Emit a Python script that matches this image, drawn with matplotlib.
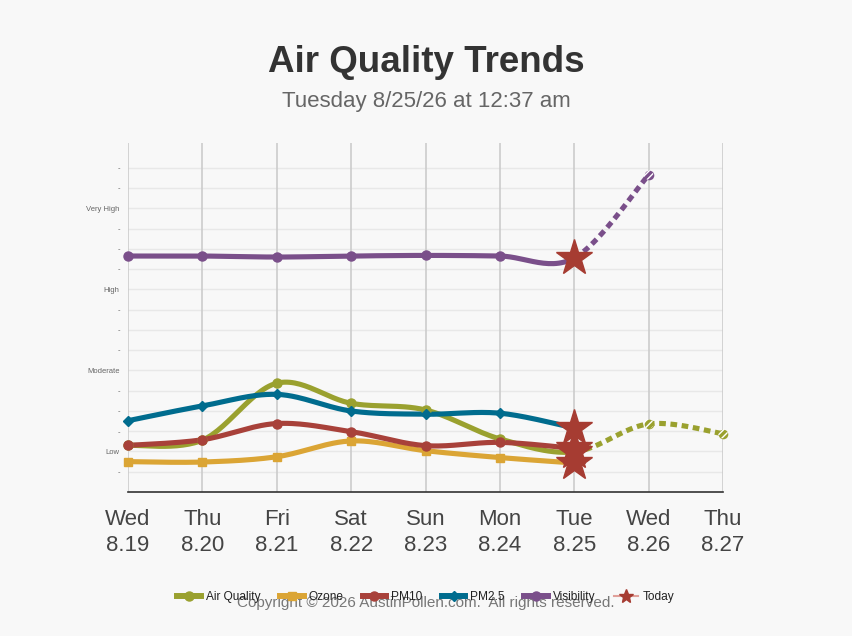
import numpy as np
import matplotlib
matplotlib.use("Agg")
import matplotlib.pyplot as plt
from matplotlib.lines import Line2D

plt.rcParams['font.family'] = ['Liberation Sans', 'DejaVu Sans']

days = ["Wed", "Thu", "Fri", "Sat", "Sun", "Mon", "Tue", "Wed", "Thu"]
dates = ["8.19", "8.20", "8.21", "8.22", "8.23", "8.24", "8.25", "8.26", "8.27"]
today_index = 6

air_quality = [2.3, 2.56, 5.37, 4.38, 4.05, 2.62, 1.98, 3.36, 2.88]
ozone = [1.5, 1.48, 1.74, 2.52, 2.04, 1.70, 1.43]
pm10 = [2.3, 2.58, 3.38, 2.98, 2.29, 2.45, 2.15]
pm25 = [3.52, 4.25, 4.82, 4.0, 3.84, 3.89, 3.16]
visibility = [11.65, 11.65, 11.6, 11.65, 11.68, 11.65, 11.55, 15.65]

level_ticks = list(range(0, 17))
level_labels = {2: "Low", 6: "Moderate", 10: "High", 14: "Very High"}

series = [
    ("Air Quality", air_quality, "#9aa12f", "o"),
    ("Ozone", ozone, "#dba535", "s"),
    ("PM10", pm10, "#a8413a", "o"),
    ("PM2.5", pm25, "#006c8e", "D"),
    ("Visibility", visibility, "#7a4f8a", "o"),
]
star_color = "#a63c32"
marker_sizes = {"o": 6.5, "s": 5.8, "D": 5.2}


def catmull_rom(xs, ys, n=30):
    x = np.asarray(xs, float)
    y = np.asarray(ys, float)
    px = np.concatenate([[x[0]], x, [x[-1]]])
    py = np.concatenate([[y[0]], y, [y[-1]]])
    outx, outy = [], []
    for i in range(1, len(px) - 2):
        t = np.linspace(0, 1, n)
        h00 = 2 * t**3 - 3 * t**2 + 1
        h10 = t**3 - 2 * t**2 + t
        h01 = -2 * t**3 + 3 * t**2
        h11 = t**3 - t**2
        m1x = (px[i + 1] - px[i - 1]) / 2
        m2x = (px[i + 2] - px[i]) / 2
        m1y = (py[i + 1] - py[i - 1]) / 2
        m2y = (py[i + 2] - py[i]) / 2
        outx.append(h00 * px[i] + h10 * m1x + h01 * px[i + 1] + h11 * m2x)
        outy.append(h00 * py[i] + h10 * m1y + h01 * py[i + 1] + h11 * m2y)
    return np.concatenate(outx), np.concatenate(outy)


fig = plt.figure(figsize=(8.52, 6.36), dpi=100)
fig.patch.set_facecolor("#f8f8f8")
ax = fig.add_axes([128 / 852, 1 - 492 / 636, (723 - 128) / 852, (492 - 143) / 636])
ax.set_facecolor("#f8f8f8")

ax.set_xlim(0, len(days) - 1)
ax.set_ylim(0, 17.23)

for yv in level_ticks[1:]:
    ax.axhline(yv, color="#e8e8e8", lw=1, zorder=0)
for xv in range(len(days)):
    ax.axvline(xv, color="#cccccc", lw=1.2, zorder=0.5)

lw = 3.7
for name, vals, col, mk in series:
    xs = np.arange(len(vals))
    cx, cy = catmull_rom(xs, vals)
    solid = cx <= today_index + 1e-9
    dashed = cx >= today_index - 1e-9
    ax.plot(cx[solid], cy[solid], color=col, lw=lw, solid_capstyle="round", zorder=3,
            clip_on=False)
    if len(vals) > today_index + 1:
        ax.plot(cx[dashed], cy[dashed], color=col, lw=lw, ls=(0, (1.3, 0.9)), zorder=3,
                clip_on=False)
    mx = xs[:today_index]
    my = vals[:today_index]
    ax.plot(mx, my, ls="none", marker=mk, color=col, ms=marker_sizes[mk], zorder=4,
            clip_on=False)
    if len(vals) > today_index + 1:
        fx = xs[today_index + 1:]
        fy = vals[today_index + 1:]
        ax.scatter(fx, fy, s=48, color=col, zorder=5, linewidths=0, clip_on=False)
        ax.scatter(fx, fy, s=48, facecolor="none", edgecolor="white", hatch="/////",
                   linewidths=0, zorder=6, clip_on=False)
    ax.plot([today_index], [vals[today_index]], ls="none", marker="*", color=star_color,
            ms=27, zorder=7, clip_on=False)

ax.set_xticks(range(len(days)))
ax.set_xticklabels([f"{d}\n{t}" for d, t in zip(days, dates)], fontsize=16,
                   color="#444444", linespacing=1.35)
ax.tick_params(axis="x", length=0, pad=12)
ax.set_yticks(level_ticks[1:])
ax.set_yticklabels([level_labels.get(v, "-") for v in level_ticks[1:]], fontsize=5.5,
                   color="#666666")
ax.tick_params(axis="y", length=0, pad=6)
for s in ["top", "right", "left"]:
    ax.spines[s].set_visible(False)
ax.spines["bottom"].set_color("#333333")
ax.spines["bottom"].set_linewidth(1.2)

fig.text(0.5, 1 - 63 / 636, "Air Quality Trends", ha="center", va="center",
         fontsize=26.5, fontweight="bold", color="#333333")
fig.text(0.5, 1 - 101 / 636, "Tuesday 8/25/26 at 12:37 am", ha="center", va="center",
         fontsize=16, color="#666666")

handles = []
for name, vals, col, mk in series:
    handles.append(Line2D([], [], color=col, lw=4.3, marker=mk, ms=marker_sizes[mk],
                          label=name))
handles.append(Line2D([], [], color="#e0a09a", lw=1.5, marker="*", ms=10,
                      markerfacecolor=star_color, markeredgecolor=star_color, label="Today"))
leg = fig.legend(handles=handles, loc="center", bbox_to_anchor=(426 / 852, 1 - 597 / 636),
                 ncol=6, frameon=False, fontsize=8.6, handlelength=2.0, handletextpad=0.4,
                 columnspacing=1.6)
for t in leg.get_texts():
    t.set_color("#222222")

fig.text(0.5, 1 - 603 / 636, "Copyright \u00a9 2026 AustinPollen.com.  All rights reserved.",
         ha="center", va="center", fontsize=11, color="#777777")

fig.savefig("out.png", dpi=100, facecolor=fig.get_facecolor())
